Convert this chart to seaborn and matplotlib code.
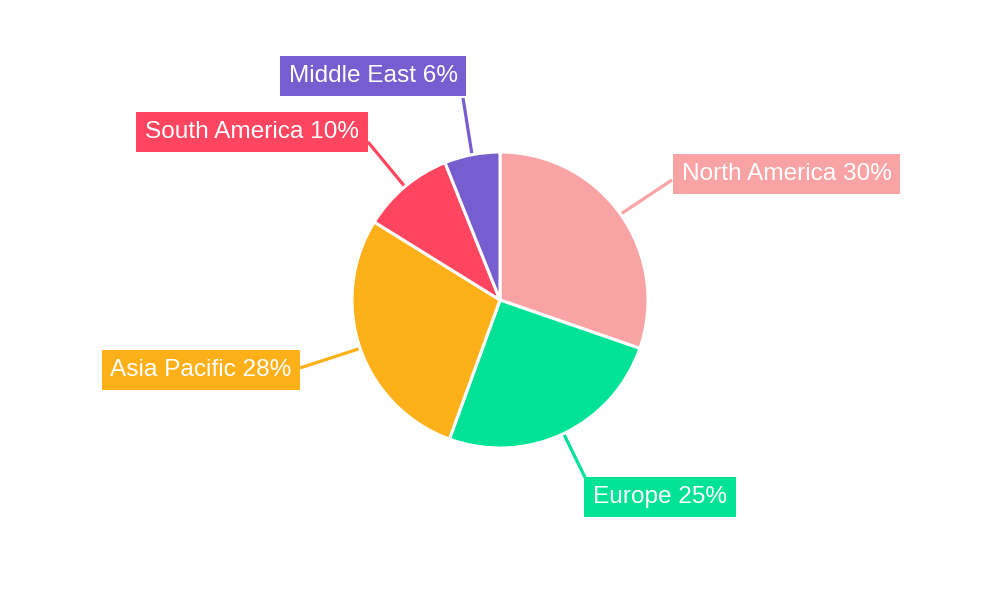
import numpy as np
import matplotlib
matplotlib.use("Agg")
import matplotlib.pyplot as plt
import seaborn as sns

regions = ["North America", "Europe", "Asia Pacific", "South America", "Middle East"]
shares = [30, 25, 28, 10, 6]
colors = ["#F9A3A4", "#00E396", "#FEB019", "#FF4560", "#775DD0"]
# label box centres and leader-line attach points (pie-radius units from pie centre)
label_pos = [(1.936, 0.851), (1.081, -1.331), (-2.020, -0.473), (-1.676, 1.135), (-0.858, 1.514)]
attach_pos = [(1.162, 0.811), (0.575, -1.200), (-1.351, -0.459), (-0.892, 1.068), (-0.250, 1.365)]

sns.set_theme(style="white")
plt.rcParams["font.family"] = ["Liberation Sans", "DejaVu Sans"]

fig = plt.figure(figsize=(10, 6), dpi=100)
ax = fig.add_axes([0, 0, 1, 1])
R = 148.0

wedges, _ = ax.pie(shares, colors=colors, startangle=90, counterclock=False, radius=1,
                   wedgeprops=dict(edgecolor="white", linewidth=2.2))
ax.set_aspect("auto")
ax.set_xlim(-500 / R, 500 / R)
ax.set_ylim(-300 / R, 300 / R)
ax.axis("off")

for w, name, val, col, pos, att in zip(wedges, regions, shares, colors, label_pos, attach_pos):
    ang = np.deg2rad((w.theta1 + w.theta2) / 2)
    edge = (np.cos(ang), np.sin(ang))
    ax.plot([edge[0], att[0]], [edge[1], att[1]], color=col, lw=2.3, zorder=0.5,
            solid_capstyle="butt")
    ax.text(pos[0], pos[1], f"{name} {val}%", ha="center", va="center",
            fontsize=17.6, color="white", zorder=5,
            bbox=dict(boxstyle="square,pad=0.36", fc=col, ec="none"))

fig.savefig("out.png", dpi=100)
